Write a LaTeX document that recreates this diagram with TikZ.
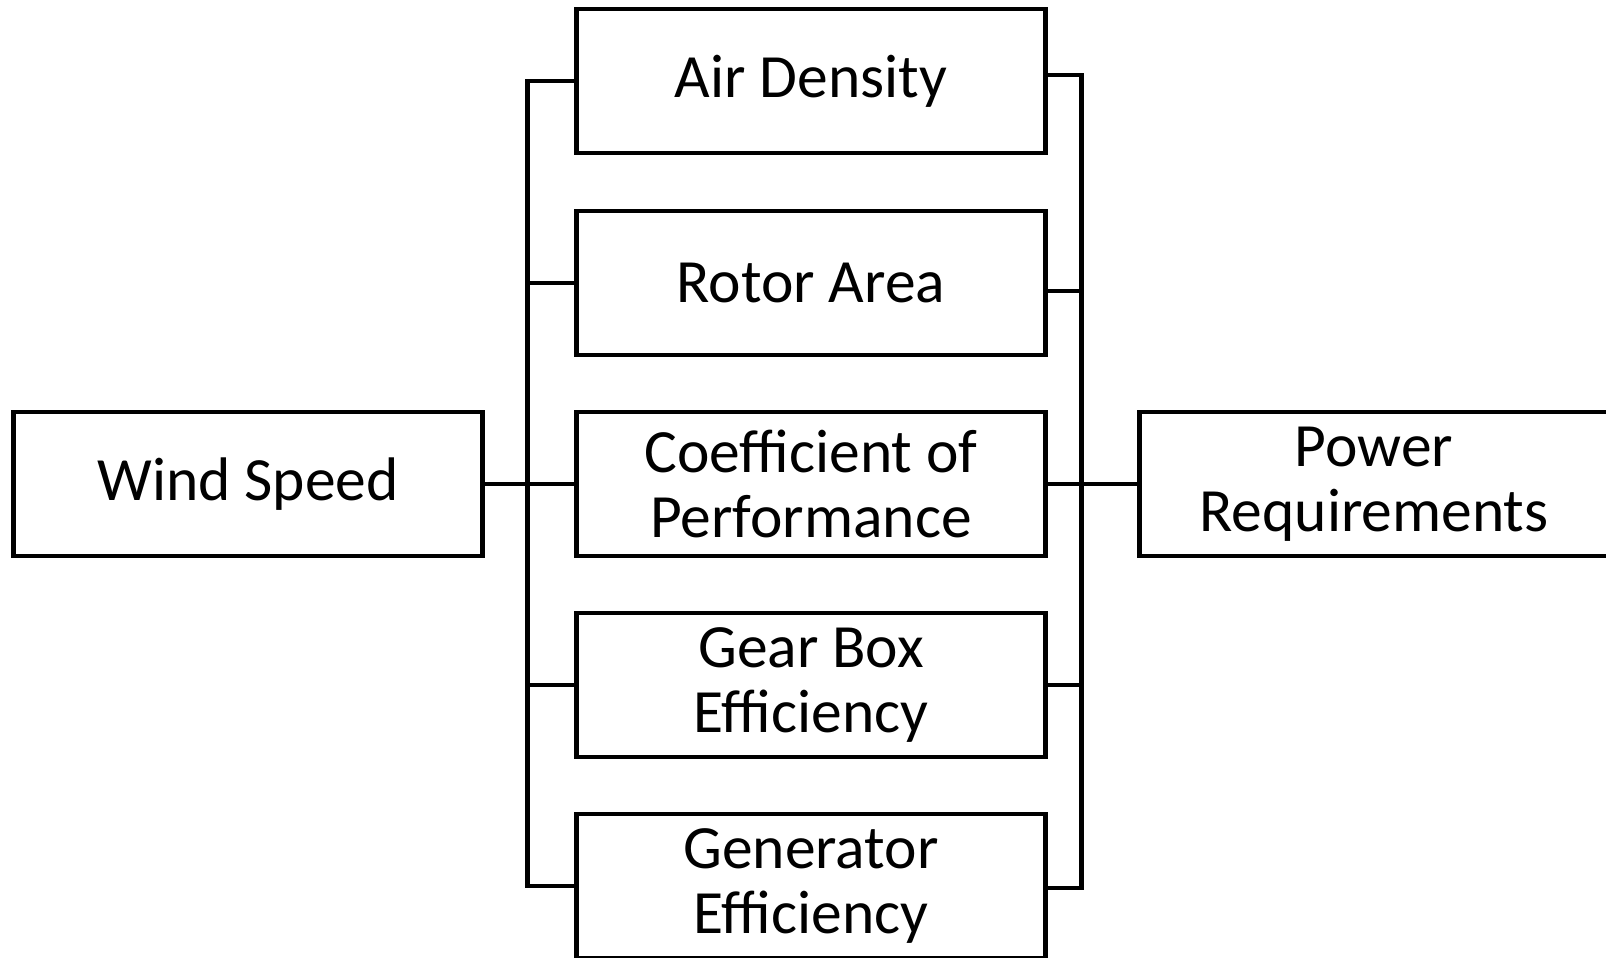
\documentclass[tikz,border=0pt]{standalone}
\usepackage{fontspec}
\setmainfont{Carlito}
\usepackage{tikz}
\usetikzlibrary{calc,positioning}

\begin{document}
\begin{tikzpicture}
  [
    x=0.02cm,y=-0.02cm,
    factor/.style={rectangle,draw=black,line width=2.4pt,align=center,inner sep=0pt,
      minimum width=9.38cm,minimum height=2.87cm,font=\fontsize{35}{37}\selectfont},
    link/.style={draw=black,line width=2.4pt}
  ]
  \useasboundingbox[fill=white] (0,0) rectangle (1606,957);
  \clip (0,0) rectangle (1606,957);

  \node[factor] at (248,484) (wind speed) {Wind Speed};
  \node[factor] at (811,81) (air density) {Air Density};
  \node[factor] at (811,283) (rotor area) {Rotor Area};
  \node[factor] at (811,484) (coefficient) {Coefficient of\\Performance};
  \node[factor] at (811,685) (gear box) {Gear Box\\Efficiency};
  \node[factor] at (811,886) (generator) {Generator\\Efficiency};
  \node[factor] at (1374,484) (power) {Power\\Requirements};

  % left bus
  \draw[link] (wind speed.east) -- (coefficient.west);
  \draw[link] (air density.west) -- ++(-47,0) |- (generator.west);
  \draw[link] (rotor area.west) -- ++(-47,0);
  \draw[link] (gear box.west) -- ++(-47,0);

  % right bus
  \draw[link] (coefficient.east) -- (power.west);
  \draw[link] ([yshift=0.12cm]air density.east) -- ++(34,0) |- ([yshift=-0.04cm]generator.east);
  \draw[link] ([yshift=-0.16cm]rotor area.east) -- ++(34,0);
  \draw[link] (gear box.east) -- ++(34,0);
\end{tikzpicture}
\end{document}
